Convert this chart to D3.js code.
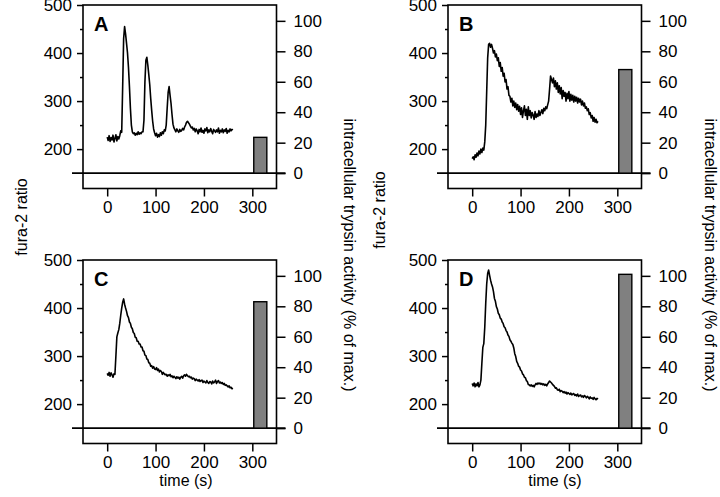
<!DOCTYPE html>
<html>
<head>
<meta charset="utf-8">
<script src="https://cdn.jsdelivr.net/npm/d3@7"></script>
<style>
  html, body { margin: 0; padding: 0; background: #fff; }
  svg { display: block; font-family: "Liberation Sans", Arial, sans-serif; }
</style>
</head>
<body>
<svg id="chart" width="720" height="497"></svg>
<script>
// ---------------- data ----------------
const panelLetters = ["A", "B", "C", "D"];
const sampleStep = 2; // seconds between samples, starting at t = 0

const furaA = [225,218,228,216,224,219,229,215,222,230,217,226,221,228,238,235,330,430,455,440,420,400,370,330,285,250,236,232,234,229,233,230,236,231,234,232,236,236,260,340,385,391,375,355,334,305,280,258,242,234,228,233,225,230,226,234,229,236,232,240,238,250,285,318,330,312,295,272,252,244,240,236,242,238,235,241,237,239,243,240,246,250,256,258,255,252,248,244,246,240,243,236,242,238,232,241,236,244,235,239,233,242,238,245,234,240,236,243,237,232,241,238,235,240,236,244,233,239,236,242,234,240,237,243,233,239,236,242,238,241,240];
const furaB = [180,184,178,188,183,192,186,196,190,200,193,202,198,215,250,320,390,418,420,412,418,410,400,405,392,398,384,390,372,380,362,370,352,358,340,345,325,330,312,310,298,306,290,300,287,296,282,293,279,289,272,286,266,280,290,270,283,262,288,270,280,265,276,271,262,278,266,273,268,280,270,276,282,274,285,280,288,284,292,300,325,352,345,338,348,330,342,325,338,318,332,315,328,305,322,310,318,300,316,305,320,300,314,302,312,298,310,300,308,296,306,298,304,292,300,290,296,285,288,280,284,272,276,265,270,258,266,256,262,255,258];
const furaC = [264,260,266,258,265,261,256,263,262,300,340,348,355,368,385,400,412,419,408,400,393,384,380,371,368,360,357,349,347,339,338,331,331,325,325,319,319,311,310,302,301,294,293,286,285,279,280,275,278,273,272,276,270,273,267,270,268,262,266,263,261,262,258,261,259,262,257,259,255,258,256,253,257,254,256,252,256,258,254,259,261,258,262,259,257,258,255,256,252,254,253,249,252,250,248,251,247,249,250,245,248,246,244,249,245,243,247,246,242,248,244,246,250,243,247,249,244,246,243,245,241,243,239,240,238,236,238,234,235,232,233];
const furaD = [243,238,244,236,242,238,245,236,240,250,285,318,326,360,410,450,472,479,468,458,450,444,434,420,414,403,398,389,386,379,377,371,368,361,359,353,350,344,341,334,331,327,324,317,305,299,289,285,279,277,271,269,263,261,256,255,249,247,241,240,238,240,237,239,236,240,243,241,244,242,244,241,243,240,242,239,241,238,242,245,248,246,244,241,239,237,233,234,230,229,231,226,228,227,224,226,223,225,221,224,222,220,223,219,221,222,218,220,217,221,216,218,219,215,217,214,218,216,213,216,214,211,215,212,213,210,214,211,209,212,210];
const furaSeries = [furaA, furaB, furaC, furaD];

// trypsin activity bars (% of max.), drawn around t = 303..330 s
const trypsin = [23.5, 68, 83, 101];
const barStart = 303, barEnd = 330;

const xTicks = [0, 100, 200, 300];
const yLeftTicks = [200, 300, 400, 500];
const yLeftMinor = [250, 350, 450];
const yRightTicks = [0, 20, 40, 60, 80, 100];

const yLabel = "fura-2 ratio";
const y2Label = "intracellular trypsin activity (% of max.)";
const xLabel = "time (s)";

// ---------------- layout ----------------
const colLeft = [83, 448];
const rowTop = [5, 260];
const pw = 193.5, ph = 183.5;
const fontTick = 17;

const svg = d3.select("#chart");
svg.append("rect").attr("width", 720).attr("height", 497).attr("fill", "#fff");

furaSeries.forEach((vals, i) => {
  const col = i % 2, row = Math.floor(i / 2);
  const L = colLeft[col], T = rowTop[row];
  const g = svg.append("g");

  const x = d3.scaleLinear().domain([-50, 350]).range([L, L + pw]);
  const yL = d3.scaleLinear().domain([118, 500]).range([T + ph, T]);
  const yR = d3.scaleLinear().domain([0, 100]).range([yL(150), yL(467)]);

  // frame
  g.append("rect").attr("x", L).attr("y", T).attr("width", pw).attr("height", ph)
    .attr("fill", "none").attr("stroke", "#000").attr("stroke-width", 1.6);

  // left axis
  g.append("g").attr("transform", `translate(${L},0)`)
    .call(d3.axisLeft(yL).tickValues(yLeftTicks).tickSize(6).tickPadding(5));
  g.append("g").attr("transform", `translate(${L},0)`)
    .call(d3.axisLeft(yL).tickValues(yLeftMinor).tickSize(3).tickFormat(""));
  // right axis
  g.append("g").attr("transform", `translate(${L + pw},0)`)
    .call(d3.axisRight(yR).tickValues(yRightTicks).tickSize(9).tickPadding(8));
  // bottom axis
  g.append("g").attr("transform", `translate(0,${T + ph})`)
    .call(d3.axisBottom(x).tickValues(xTicks).tickSize(8).tickPadding(4));

  g.selectAll(".domain").remove();
  g.selectAll(".tick line").attr("stroke", "#000").attr("stroke-width", 1.5);
  g.selectAll(".tick text").attr("fill", "#000").style("font-size", fontTick + "px")
    .style("font-family", '"Liberation Sans", Arial, sans-serif');

  // zero line of the activity axis
  g.append("line")
    .attr("x1", L - 11).attr("x2", L + pw + 9)
    .attr("y1", yR(0)).attr("y2", yR(0))
    .attr("stroke", "#000").attr("stroke-width", 1.6);

  // bar
  g.append("rect")
    .attr("x", x(barStart)).attr("width", x(barEnd) - x(barStart))
    .attr("y", yR(trypsin[i])).attr("height", yR(0) - yR(trypsin[i]))
    .attr("fill", "#808080").attr("stroke", "#000").attr("stroke-width", 1.4);

  // trace
  const line = d3.line()
    .x((d, k) => x(k * sampleStep))
    .y(d => yL(d));
  g.append("path").datum(vals).attr("d", line)
    .attr("fill", "none").attr("stroke", "#000").attr("stroke-width", 1.6)
    .attr("stroke-linejoin", "round");

  // panel letter
  g.append("text").attr("x", L + 11).attr("y", T + 26)
    .attr("font-weight", "bold").attr("font-size", 20).text(panelLetters[i]);
});

// axis titles
const yLabelPos = [[21, 217], [379, 210]];
yLabelPos.forEach(([cx, cy]) => {
  svg.append("text").attr("transform", `translate(${cx},${cy}) rotate(-90)`)
    .attr("text-anchor", "middle").attr("dy", "0.35em")
    .attr("font-size", 16).text(yLabel);
});
const y2LabelPos = [[350, 255], [711, 255]];
y2LabelPos.forEach(([cx, cy]) => {
  svg.append("text").attr("transform", `translate(${cx},${cy}) rotate(90)`)
    .attr("text-anchor", "middle").attr("dy", "0.35em")
    .attr("font-size", 16).text(y2Label);
});
const xLabelPos = [[186, 486], [555, 486]];
xLabelPos.forEach(([cx, by]) => {
  svg.append("text").attr("x", cx).attr("y", by)
    .attr("text-anchor", "middle").attr("font-size", 16).text(xLabel);
});
</script>
</body>
</html>
